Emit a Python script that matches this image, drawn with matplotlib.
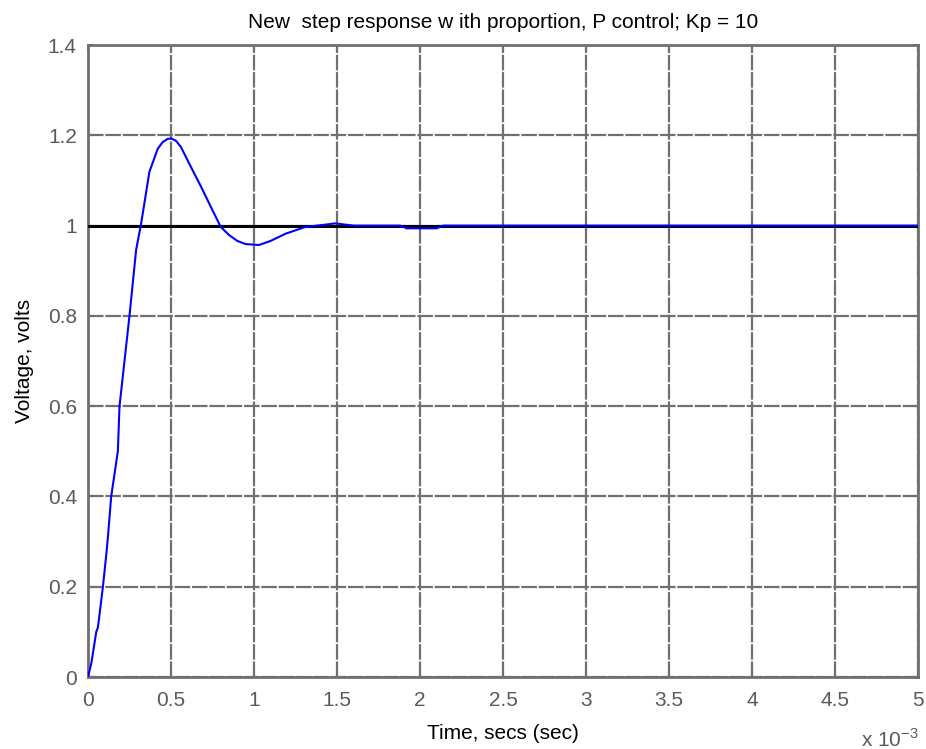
import matplotlib
matplotlib.use("Agg")
import matplotlib.pyplot as plt
from matplotlib.ticker import FuncFormatter

plt.rcParams['font.family'] = ['Liberation Sans', 'DejaVu Sans']
plt.rcParams['mathtext.fontset'] = 'custom'
plt.rcParams['mathtext.rm'] = 'Liberation Sans'

# step response, time in seconds
t = [0, 0.02e-3, 0.05e-3, 0.06e-3, 0.09e-3, 0.11e-3, 0.12e-3, 0.14e-3, 0.18e-3,
     0.19e-3, 0.25e-3, 0.29e-3, 0.32e-3, 0.37e-3, 0.42e-3, 0.45e-3, 0.48e-3,
     0.50e-3, 0.53e-3, 0.56e-3, 0.62e-3, 0.68e-3, 0.75e-3, 0.80e-3, 0.85e-3,
     0.90e-3, 0.95e-3, 1.03e-3, 1.10e-3, 1.19e-3, 1.31e-3, 1.45e-3, 1.49e-3,
     1.53e-3, 1.60e-3, 1.88e-3, 1.92e-3, 2.10e-3, 2.14e-3, 2.5e-3, 3e-3, 4e-3, 5e-3]
v = [0, 0.03, 0.10, 0.11, 0.20, 0.27, 0.31, 0.40, 0.50,
     0.60, 0.80, 0.946, 1.004, 1.119, 1.170, 1.185, 1.192,
     1.193, 1.188, 1.174, 1.130, 1.087, 1.034, 0.997, 0.979,
     0.966, 0.959, 0.957, 0.966, 0.982, 0.997, 1.003, 1.005,
     1.003, 1.0, 1.0, 0.994, 0.994, 1.0, 1.0, 1.0, 1.0, 1.0]
ref_t = [0, 5e-3]
ref_v = [1, 1]

fig = plt.figure(figsize=(9.26, 7.49), dpi=100)
ax = fig.add_axes([0.095, 0.0961, 0.8964, 0.8438])

ax.plot(ref_t, ref_v, color='black', lw=2.2, zorder=3)
ax.plot(t, v, color='#0000ff', lw=1.5, zorder=4)

ax.set_xlim(0, 5e-3)
ax.set_ylim(0, 1.4)
ax.set_xticks([i * 0.5e-3 for i in range(11)])
ax.set_yticks([0, 0.2, 0.4, 0.6, 0.8, 1.0, 1.2, 1.4])
ax.xaxis.set_major_formatter(FuncFormatter(lambda x, _: f"{x * 1e3:g}"))
ax.yaxis.set_major_formatter(FuncFormatter(lambda y, _: f"{y:g}"))
ax.tick_params(colors='#707070', labelcolor='#5a5a5a', labelsize=15,
               direction='in', length=4, width=1.5, top=True, right=True)
ax.tick_params(axis='x', pad=10)
ax.tick_params(axis='y', pad=8)

ax.grid(True, color='#707070', lw=1.6, linestyle=(0, (7, 0.8)))
ax.set_axisbelow(True)
for s in ax.spines.values():
    s.set_color('#707070')
    s.set_linewidth(2)

ax.set_title('New  step response w ith proportion, P control; Kp = 10', fontsize=15, pad=12)
ax.set_xlabel('Time, secs (sec)', fontsize=15, labelpad=10)
ax.set_ylabel('Voltage, volts', fontsize=15, labelpad=10)
fig.text(0.93, 0.003, r'x 10$^{-3}$', fontsize=15, color='#5a5a5a')

fig.savefig('out.png', dpi=100)
